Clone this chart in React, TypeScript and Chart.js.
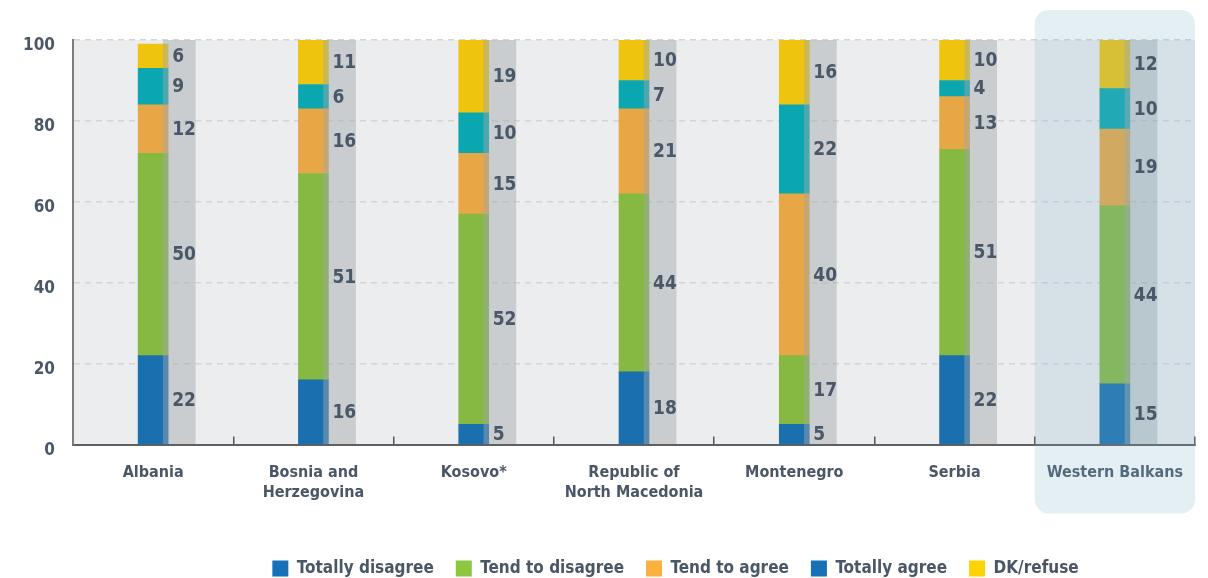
import React, { useEffect, useRef } from "react";
import { Chart, registerables } from "chart.js";

Chart.register(...registerables);

// ---- Data ----
const categories: string[][] = [
  ["Albania"],
  ["Bosnia and", "Herzegovina"],
  ["Kosovo*"],
  ["Republic of", "North Macedonia"],
  ["Montenegro"],
  ["Serbia"],
  ["Western Balkans"],
];
const seriesNames = ["Totally disagree", "Tend to disagree", "Tend to agree", "Totally agree", "DK/refuse"];
const totallyDisagree = [22, 16, 5, 18, 5, 22, 15];
const tendToDisagree = [50, 51, 52, 44, 17, 51, 44];
const tendToAgree = [12, 16, 15, 21, 40, 13, 19];
const totallyAgree = [9, 6, 10, 7, 22, 4, 10];
const dkRefuse = [6, 11, 19, 10, 16, 10, 12];
const backgroundColumn = [100, 100, 100, 100, 100, 100, 100];
const yTickStep = 20;
const highlightIndex = 6; // Western Balkans

// ---- Styles ----
const FONT = "'Liberation Sans Narrow', 'DejaVu Sans Condensed', 'Roboto', sans-serif";
const TEXT = "#4a5767";
const barColors = ["#1a6faf", "#86b942", "#e8a745", "#0aa7b1", "#efc40e"];
const legendColors = ["#1671b9", "#8dc63f", "#fbb040", "#1671b9", "#ffd200"];
const columnShift = 0.163; // grey column offset, in category units

const seriesValues = [totallyDisagree, tendToDisagree, tendToAgree, totallyAgree, dkRefuse];

const decorPlugin = {
  id: "decor",
  beforeDraw(chart: any) {
    const { ctx, chartArea } = chart;
    ctx.save();
    ctx.fillStyle = "#ecedef";
    ctx.fillRect(chartArea.left, chartArea.top, chartArea.right - chartArea.left, chartArea.bottom - chartArea.top);
    ctx.restore();
  },
  afterLayout(chart: any) {
    const lg = chart.legend;
    if (lg) {
      lg.left += 78;
      lg.right += 78;
      lg.top += 13;
      lg.bottom += 13;
    }
  },
  afterDatasetsDraw(chart: any) {
    const { ctx, chartArea } = chart;
    const xs = chart.scales.x;
    const step = (xs.right - xs.left) / categories.length;
    const cx = xs.getPixelForValue(highlightIndex);
    const left = cx - step / 2;
    const top = chartArea.top - 30;
    const bottom = chartArea.bottom + 69;
    ctx.save();
    ctx.fillStyle = "rgba(127,178,202,0.21)";
    ctx.beginPath();
    (ctx as any).roundRect(left, top, step, bottom - top, 14);
    ctx.fill();
    ctx.restore();

    ctx.save();
    ctx.font = `bold 19px ${FONT}`;
    ctx.fillStyle = TEXT;
    ctx.textAlign = "left";
    ctx.textBaseline = "middle";
    for (let d = 0; d < seriesValues.length; d++) {
      const meta = chart.getDatasetMeta(d);
      meta.data.forEach((bar: any, i: number) => {
        const p = bar.getProps(["x", "y", "base", "width"], true);
        const yTop = Math.max(p.y, chartArea.top);
        const yc = (yTop + p.base) / 2;
        ctx.fillText(String(seriesValues[d][i]), p.x + p.width / 2 + 4, yc + 1);
      });
    }
    ctx.restore();
  },
};

export default function App() {
  const ref = useRef<HTMLCanvasElement | null>(null);
  useEffect(() => {
    if (!ref.current) return;
    const datasets: any[] = seriesNames.map((name, i) => ({
      label: name,
      data: seriesValues[i],
      backgroundColor: barColors[i],
      stack: "a",
      xAxisID: "x",
      order: 1,
      grouped: false,
      barThickness: 30,
      borderWidth: 0,
    }));
    datasets.push({
      label: "_column",
      data: backgroundColumn.map((v, i) => ({ x: i, y: v })),
      backgroundColor: "rgba(160,167,172,0.46)",
      stack: "grey",
      xAxisID: "x2",
      order: 0,
      grouped: false,
      barThickness: 32,
      borderWidth: 0,
    });

    const chart = new Chart(ref.current, {
      type: "bar",
      data: { labels: categories as any, datasets },
      plugins: [decorPlugin],
      options: {
        animation: false,
        responsive: true,
        maintainAspectRatio: false,
        layout: { padding: { top: 40, right: 13, left: 0, bottom: 4 } },
        plugins: {
          tooltip: { enabled: false },
          legend: {
            position: "bottom",
            labels: {
              boxWidth: 16,
              boxHeight: 16,
              padding: 22,
              color: TEXT,
              font: { family: FONT, size: 17, weight: "bold" },
              generateLabels: () =>
                seriesNames.map((n, i) => ({
                  text: n,
                  fillStyle: legendColors[i],
                  strokeStyle: legendColors[i],
                  lineWidth: 0,
                  hidden: false,
                  datasetIndex: i,
                  fontColor: TEXT,
                })),
            },
          },
        },
        scales: {
          x: {
            type: "category",
            stacked: true,
            offset: true,
            grid: { offset: true, drawOnChartArea: false, tickLength: -8, color: "#555", lineWidth: 1.5 },
            border: { color: "#5f5f5f", width: 2 },
            ticks: {
              padding: 27,
              color: TEXT,
              font: { family: FONT, size: 16, weight: "bold" },
              maxRotation: 0,
              autoSkip: false,
            },
            afterFit: (s: any) => {
              s.paddingLeft = 0;
              s.paddingRight = 0;
              s.height = s.height - 4;
            },
          },
          x2: {
            type: "linear",
            display: false,
            offset: false,
            grid: { offset: false },
            min: -0.5 - columnShift,
            max: categories.length - 0.5 - columnShift,
          },
          y: {
            stacked: true,
            min: 0,
            max: 100,
            ticks: {
              stepSize: yTickStep,
              padding: 18,
              labelOffset: 6,
              color: TEXT,
              font: { family: FONT, size: 17, weight: "bold" },
            },
            grid: { color: "#d3d5d8", drawTicks: false, tickLength: 0, lineWidth: 1.5 },
            border: { display: true, color: "#7d7d7d", width: 2, dash: [6, 5] },
            afterFit: (s: any) => {
              s.width = 73;
            },
          },
        } as any,
      } as any,
    });
    return () => chart.destroy();
  }, []);

  return (
    <div style={{ position: "fixed", left: 0, top: 0, width: 1208, height: 578, background: "#fff" }}>
      <canvas ref={ref} />
    </div>
  );
}
